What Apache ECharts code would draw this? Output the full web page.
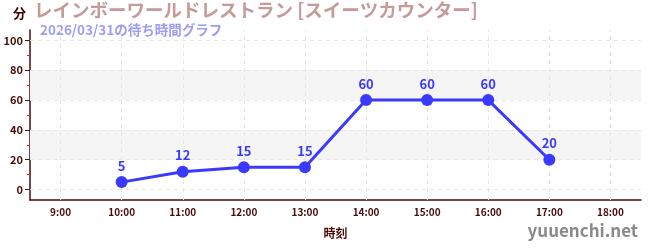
<!DOCTYPE html>
<html><head><meta charset="utf-8">
<script src="https://cdn.jsdelivr.net/npm/echarts@6/dist/echarts.min.js"></script>
<style>html,body{margin:0;padding:0;background:#fff}#c{width:650px;height:250px}</style>
</head><body><div id="c"></div>
<script>
const categories = ['9:00','10:00','11:00','12:00','13:00','14:00','15:00','16:00','17:00','18:00'];
const waitMinutes = [null,5,12,15,15,60,60,60,20,null];
const yMajorTicks = [0,20,40,60,80,100];
const yMinorTicks = [10,30,50,70,90];
const stripeBands = [[20,40],[60,80]];
const titleText = 'レインボーワールドレストラン [スイーツカウンター]';
const subtitleText = '2026/03/31の待ち時間グラフ';
const FONT = '"Noto Sans CJK JP","Noto Sans",sans-serif';
const axisColor = '#4a0a0a';
const chart = echarts.init(document.getElementById('c'));
chart.setOption({
  animation:false,
  textStyle:{fontFamily:FONT},
  graphic:[
    {type:'text',left:13,top:7,style:{text:'分',font:'bold 13px '+FONT,fill:'#400000'}},
    {type:'text',left:34,top:1,style:{text:titleText,font:'bold 18.5px '+FONT,fill:'#c49a9a'}},
    {type:'text',left:40,top:23,style:{text:subtitleText,font:'bold 13.5px '+FONT,fill:'#9c9cf5'}},
    {type:'text',right:12,top:222,style:{text:'yuuenchi.net',font:'bold 17px '+FONT,fill:'#8a8a8a'}}
  ],
  grid:{left:30,right:9,top:30,bottom:50,containLabel:false},
  xAxis:{type:'category',data:categories,boundaryGap:true,
    name:'時刻',nameLocation:'middle',nameGap:27,
    nameTextStyle:{color:'#4a0a0a',fontWeight:'bold',fontSize:12,fontFamily:FONT},
    axisLine:{onZero:false,lineStyle:{color:axisColor,width:1.5}},
    axisTick:{alignWithLabel:true,length:4,lineStyle:{color:'#777',width:2}},
    axisLabel:{color:'#4a0a0a',fontSize:10,fontWeight:'bold',margin:7,fontFamily:FONT},
    splitLine:{show:false}},
  yAxis:[{type:'value',min:-7,max:107,
    axisLine:{show:true,lineStyle:{color:axisColor,width:1.5}},
    axisTick:{show:true,length:5,customValues:yMajorTicks,lineStyle:{color:'#222'}},
    axisLabel:{customValues:yMajorTicks,color:'#4a0a0a',fontSize:11,fontWeight:'bold',margin:7,fontFamily:FONT},
    splitLine:{show:false}},
   {type:'value',min:-7,max:107,position:'left',
    axisLine:{show:false},
    axisTick:{show:true,length:3,customValues:yMinorTicks,lineStyle:{color:'#e02020'}},
    axisLabel:{show:false},splitLine:{show:false}}],
  series:[
   {type:'line',data:[],yAxisIndex:0,z:1,silent:true,
    markArea:{silent:true,itemStyle:{color:'#f5f5f5'},
      data:stripeBands.map(b=>[{yAxis:b[0]},{yAxis:b[1]}])},
    markLine:{silent:true,symbol:'none',label:{show:false},
      lineStyle:{color:'#e6e6e6',type:[4,4],width:1},
      data:yMajorTicks.map(v=>({yAxis:v})).concat(categories.map(c=>({xAxis:c})))}},
   {type:'line',data:waitMinutes,yAxisIndex:0,z:5,
    lineStyle:{color:'#3a3aff',width:3},
    itemStyle:{color:'#3a3aff'},
    symbol:'circle',symbolSize:12,
    label:{show:true,position:'top',distance:4,color:'#3a3aff',fontWeight:'bold',fontSize:13,fontFamily:FONT}}
  ]
});
</script></body></html>
